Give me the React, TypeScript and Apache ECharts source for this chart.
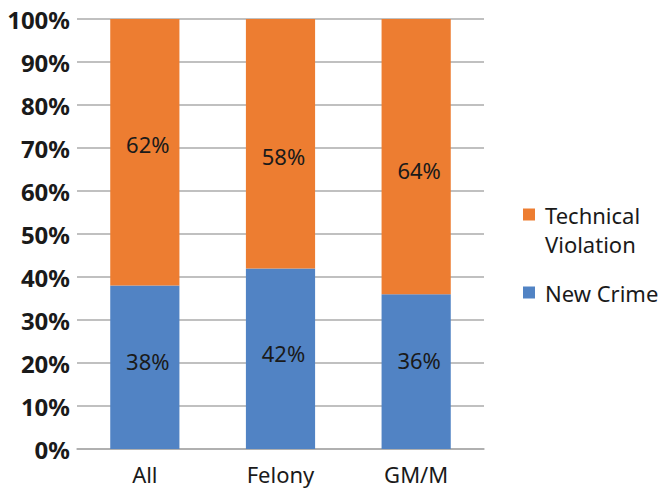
import React, { useEffect, useRef } from "react";
import * as echarts from "echarts";

const categories = ["All", "Felony", "GM/M"];
const newCrime = [38, 42, 36];
const technicalViolation = [62, 58, 64];
const yTicks = [0, 10, 20, 30, 40, 50, 60, 70, 80, 90, 100];

const FONT = "'Noto Sans', sans-serif";
const TEXT = "#1a1a1a";

export default function App() {
  const ref = useRef<HTMLDivElement>(null);

  useEffect(() => {
    if (!ref.current) return;
    const chart = echarts.init(ref.current, null, { renderer: "svg" });
    const label = {
      show: true,
      position: "inside",
      formatter: (p: any) => `${p.value}%`,
      color: TEXT,
      fontFamily: FONT,
      fontSize: 22,
    };
    // nudge each value label a little inside its segment
    const withShift = (values: number[], dy: number[]) =>
      values.map((v, i) => ({ value: v, label: { offset: [3, dy[i]] } }));

    chart.setOption({
      animation: false,
      backgroundColor: "#ffffff",
      textStyle: { fontFamily: FONT },
      grid: { left: 77, right: 174, top: 19, bottom: 40, containLabel: false },
      legend: {
        orient: "vertical",
        left: 523,
        top: 171,
        padding: 0,
        itemGap: 20,
        itemWidth: 12,
        itemHeight: 12,
        icon: "rect",
        data: ["Technical Violation", "New Crime"],
        // a leading empty line keeps the square beside the first text line
        formatter: (name: string) =>
          name === "Technical Violation" ? " \nTechnical\nViolation" : name,
        textStyle: {
          fontFamily: FONT,
          fontSize: 22,
          color: TEXT,
          lineHeight: 29,
          padding: [0, 0, 0, 5],
        },
      },
      xAxis: {
        type: "category",
        data: categories,
        axisLine: { show: true, lineStyle: { color: "#ababab", width: 1.5 } },
        axisTick: { show: false },
        axisLabel: { color: TEXT, fontFamily: FONT, fontSize: 22, margin: 14 },
      },
      yAxis: {
        type: "value",
        min: 0,
        max: 100,
        interval: 10,
        axisLine: { show: false },
        axisTick: { show: false },
        splitLine: { lineStyle: { color: "#ababab", width: 1.5 } },
        axisLabel: {
          color: TEXT,
          fontFamily: FONT,
          fontSize: 24,
          fontWeight: "bold",
          margin: 7,
          formatter: (v: number) => (yTicks.includes(v) ? `${v}%` : ""),
        },
      },
      series: [
        {
          name: "New Crime",
          type: "bar",
          stack: "total",
          barWidth: "51%",
          data: withShift(newCrime, [-6, -6, -12]),
          itemStyle: { color: "#5183c4" },
          label,
        },
        {
          name: "Technical Violation",
          type: "bar",
          stack: "total",
          barWidth: "51%",
          data: withShift(technicalViolation, [-8, 12, 13]),
          itemStyle: { color: "#ed7d31" },
          label,
        },
      ],
    });
    return () => chart.dispose();
  }, []);

  return (
    <div
      ref={ref}
      style={{ position: "fixed", left: 0, top: 0, width: 658, height: 489 }}
    />
  );
}
